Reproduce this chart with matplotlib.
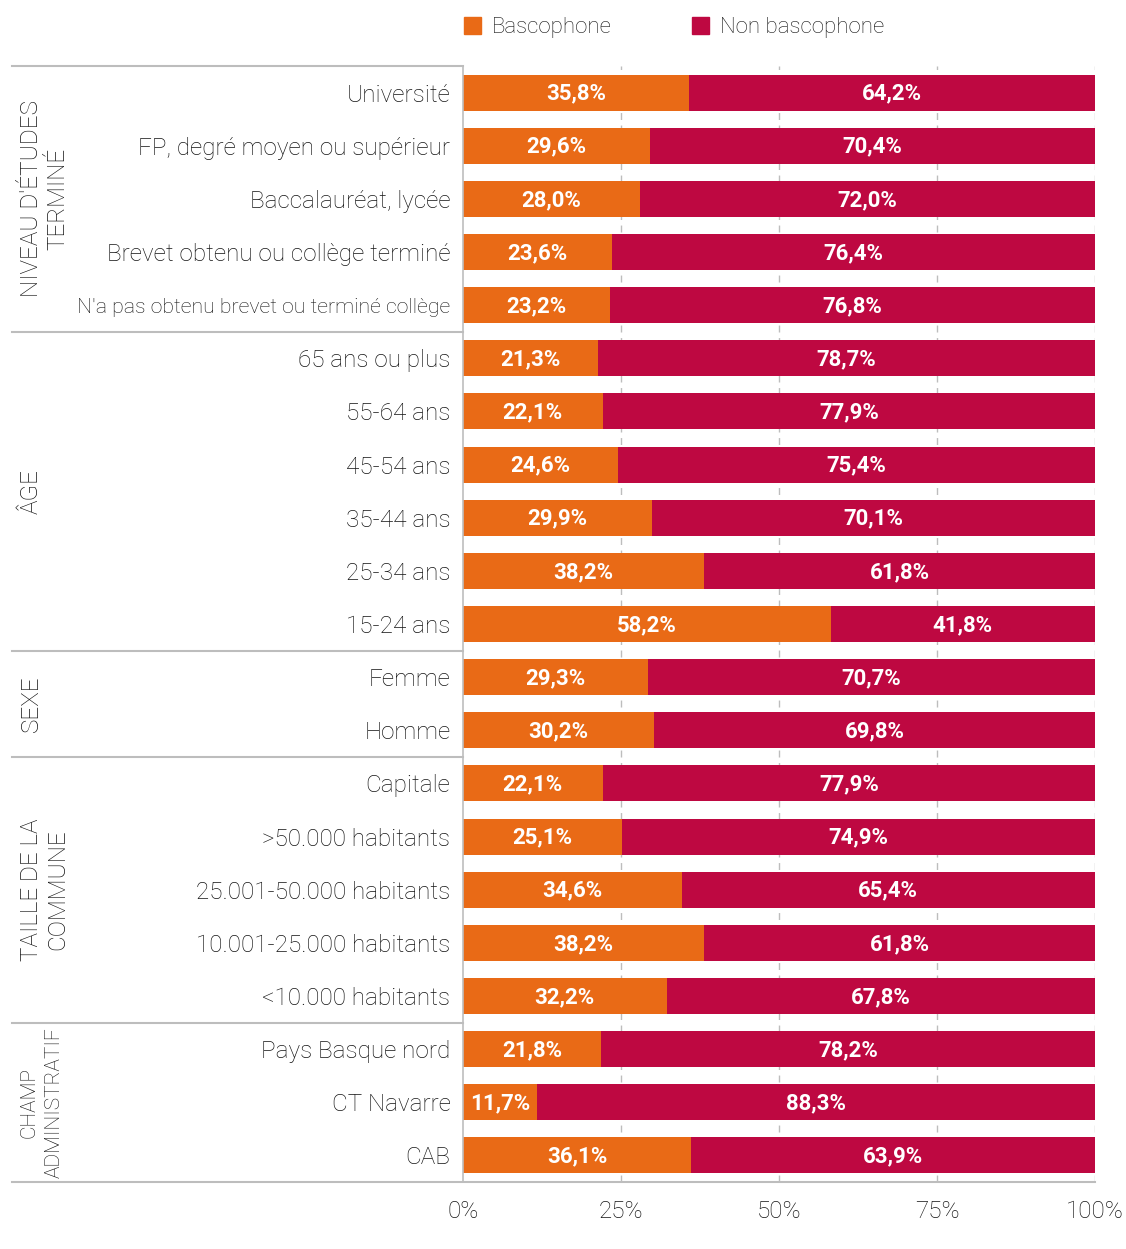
import matplotlib
matplotlib.use("Agg")
import matplotlib.pyplot as plt
from matplotlib.patches import Patch

plt.rcParams['font.family'] = ['Roboto', 'DejaVu Sans']

categories = ["Université", "FP, degré moyen ou supérieur", "Baccalauréat, lycée",
              "Brevet obtenu ou collège terminé", "N'a pas obtenu brevet ou terminé collège",
              "65 ans ou plus", "55-64 ans", "45-54 ans", "35-44 ans", "25-34 ans", "15-24 ans",
              "Femme", "Homme",
              "Capitale", ">50.000 habitants", "25.001-50.000 habitants",
              "10.001-25.000 habitants", "<10.000 habitants",
              "Pays Basque nord", "CT Navarre", "CAB"]
bascophone = [35.8, 29.6, 28.0, 23.6, 23.2,
              21.3, 22.1, 24.6, 29.9, 38.2, 58.2,
              29.3, 30.2,
              22.1, 25.1, 34.6, 38.2, 32.2,
              21.8, 11.7, 36.1]
non_bascophone = [64.2, 70.4, 72.0, 76.4, 76.8,
                  78.7, 77.9, 75.4, 70.1, 61.8, 41.8,
                  70.7, 69.8,
                  77.9, 74.9, 65.4, 61.8, 67.8,
                  78.2, 88.3, 63.9]
groups = ["NIVEAU D'ÉTUDES\nTERMINÉ", "ÂGE", "SEXE", "TAILLE DE LA\nCOMMUNE", "CHAMP\nADMINISTRATIF"]
group_sizes = [5, 6, 2, 5, 3]
xticks = [0, 25, 50, 75, 100]

orange = "#E96A16"
crimson = "#BE0841"
gray = "#BDBDBD"
text_col = "#141414"

fig = plt.figure(figsize=(11.26, 12.49), dpi=100)
ax = fig.add_axes([463 / 1126, 1 - 1182 / 1249, 632 / 1126, 1116 / 1249])

y = list(range(len(categories)))
ax.barh(y, bascophone, height=0.68, color=orange, zorder=2)
ax.barh(y, non_bascophone, left=bascophone, height=0.68, color=crimson, zorder=2)

for i in y:
    ax.text(bascophone[i] / 2, i + 0.02, f"{bascophone[i]:.1f}%".replace('.', ','),
            ha='center', va='center', color='white', fontsize=16, fontweight='bold', zorder=3)
    ax.text(bascophone[i] + non_bascophone[i] / 2, i + 0.02,
            f"{non_bascophone[i]:.1f}%".replace('.', ','),
            ha='center', va='center', color='white', fontsize=16, fontweight='bold', zorder=3)

ax.set_xlim(0, 100)
ax.set_ylim(len(categories) - 0.5, -0.5)
ax.set_xticks(xticks)
ax.set_xticklabels([f"{t}%" for t in xticks])
ax.set_yticks(y)
ax.set_yticklabels(categories)
ax.tick_params(axis='both', length=0, labelsize=17.5, labelcolor=text_col)
ax.tick_params(axis='y', pad=9)
ax.tick_params(axis='x', pad=13)
for lab in ax.get_xticklabels() + ax.get_yticklabels():
    lab.set_fontweight('light')
# the long label is squeezed in the original
ax.get_yticklabels()[4].set_fontsize(15.3)

for t in xticks[1:]:
    ax.axvline(t, color=gray, lw=1, ls=(0, (5, 4)), zorder=1)

for s in ['top', 'right', 'bottom']:
    ax.spines[s].set_visible(False)
ax.spines['left'].set_color(gray)
ax.spines['left'].set_linewidth(1.2)

# group separators and labels
trans = ax.get_yaxis_transform()
x_left = (12 - 463) / 632
start = 0
for name, size in zip(groups, group_sizes):
    ax.plot([x_left, 0], [start - 0.5, start - 0.5], color=gray, lw=1.5,
            transform=trans, clip_on=False)
    small = name.startswith("CHAMP")
    ax.text((20 - 463) / 632, start + (size - 1) / 2, name, rotation=90,
            ha='left', va='center', multialignment='center',
            fontsize=15 if small else 17.5, linespacing=1.4 if small else 1.2,
            fontweight='light', color=text_col, transform=trans)
    start += size
ax.plot([x_left, 1], [start - 0.5, start - 0.5], color=gray, lw=1.5,
        transform=trans, clip_on=False)

handles = [Patch(color=orange, label="Bascophone"), Patch(color=crimson, label="Non bascophone")]
leg = fig.legend(handles=handles, loc='upper left', bbox_to_anchor=(464 / 1126, 1 - 17 / 1249),
                 ncol=2, frameon=False, fontsize=16, handlelength=0.77, handleheight=0.77,
                 handletextpad=0.5, columnspacing=3.6, borderpad=0, borderaxespad=0)
for t in leg.get_texts():
    t.set_fontweight('light')
    t.set_color(text_col)

fig.savefig("out.png", dpi=100)
